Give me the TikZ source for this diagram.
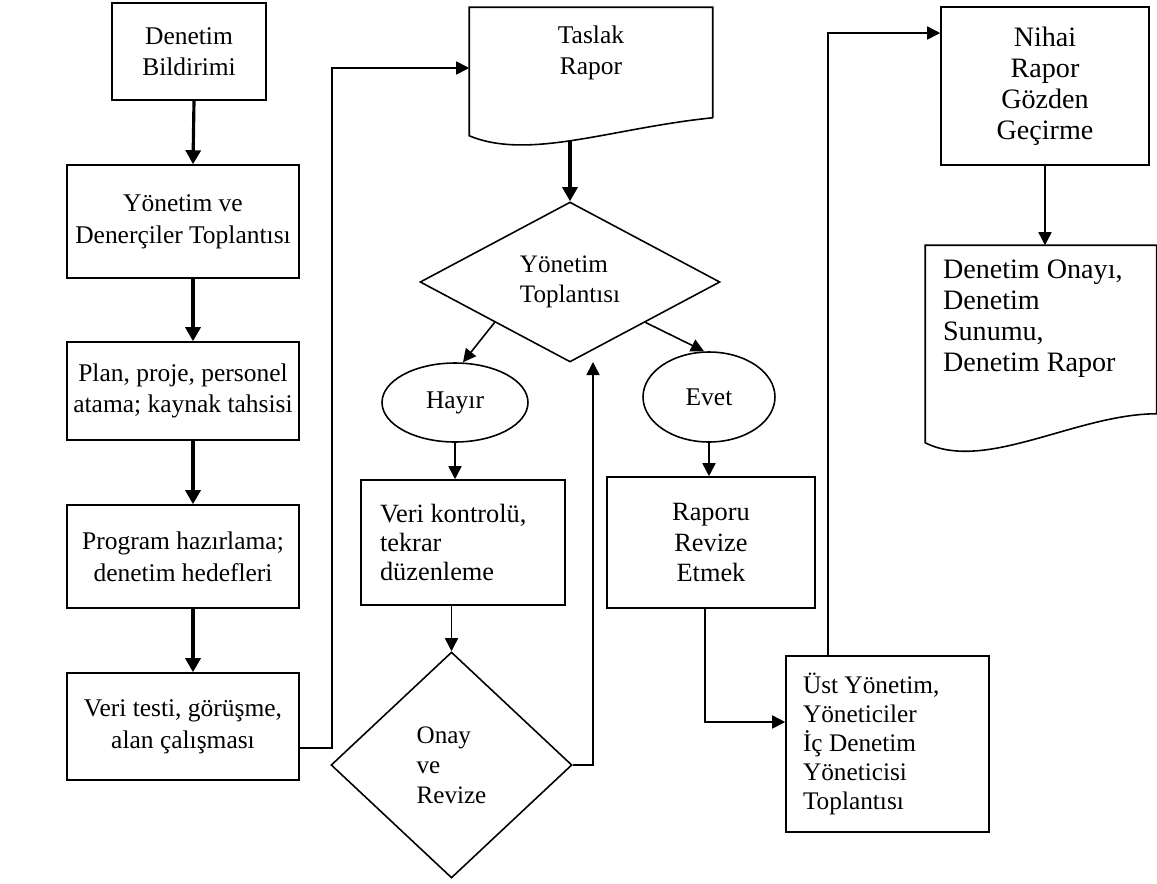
\documentclass[tikz,border=0pt]{standalone}
\usepackage{fontspec}
\setmainfont{Liberation Serif}
\usetikzlibrary{shapes.geometric, arrows.meta, calc, positioning}
\tikzset{
    box/.style ={draw, line width=0.9pt, inner sep=0pt, align=center, font=\fontsize{14.5}{18}\selectfont},
    lbox/.style={draw, line width=0.9pt, inner ysep=0pt, align=flush left},
    dec/.style ={diamond, draw, line width=0.9pt, inner sep=0pt, align=left, font=\fontsize{14.3}{17}\selectfont},
    oval/.style={ellipse, draw, line width=0.9pt, inner sep=0pt, font=\fontsize{14.5}{18}\selectfont},
    fat/.style ={line width=1.8pt, -{Triangle[length=0.28cm,width=0.3cm]}},
    flow/.style={line width=0.9pt, -{Triangle[length=0.26cm,width=0.26cm]}},
    link/.style={line width=0.9pt}
}

\begin{document}
\begin{tikzpicture}[x=0.02cm, y=-0.02cm]
  \useasboundingbox (0,0) rectangle (1157,883);

  % left column
  \node[box, minimum width=3.08cm, minimum height=1.94cm] (bild) at (189,51.5) {Denetim\\Bildirimi};
  \node[box, minimum width=4.64cm, minimum height=2.26cm] (meet) at (183,221.5) {Yönetim ve\\Denerçiler Toplantısı};
  \node[box, minimum width=4.64cm, minimum height=1.96cm] (plan) at (183,391) {Plan, proje, personel\\atama; kaynak tahsisi};
  \node[box, minimum width=4.64cm, minimum height=2.06cm] (prog) at (183,556.5) {Program hazırlama;\\denetim hedefleri};
  \node[box, minimum width=4.64cm, minimum height=2.14cm] (test) at (183,726.5) {Veri testi, görüşme,\\alan çalışması};

  \draw[fat] ([xshift=0.1cm]bild.south) -- ([xshift=0.2cm]meet.north);
  \draw[fat] ([xshift=0.2cm]meet.south) -- ([xshift=0.2cm]plan.north);
  \draw[fat] ([xshift=0.2cm]plan.south) -- ([xshift=0.2cm]prog.north);
  \draw[fat] ([xshift=0.2cm]prog.south) -- ([xshift=0.2cm]test.north);

  % draft report
  \node[box, draw=none, minimum width=4.84cm, minimum height=1.8cm] (draft) at (591,53) {Taslak\\Rapor};
  \draw[link] ([yshift=-0.38cm]draft.south east) -- (draft.north east) -- (draft.north west)
    -- ([yshift=-0.74cm]draft.south west)
    .. controls +(1.2cm,-0.5cm) and +(-2cm,-0.2cm) .. ([yshift=-0.38cm]draft.south east);
  \draw[flow] ([yshift=-0.43cm]test.east) -- ++(0.64cm,0) |- ([yshift=-0.3cm]draft.west);

  % management meeting
  \node[dec, minimum width=6cm, minimum height=3.2cm] (mgmt) at (570,282) {Yönetim\\Toplantısı};
  \draw[fat] ([yshift=-0.84cm]draft.south -| mgmt.north) -- (mgmt.north);

  \node[oval, minimum width=2.92cm, minimum height=1.58cm] (no) at (455,402.5) {Hayır};
  \node[oval, minimum width=2.64cm, minimum height=1.8cm] (yes) at (709,397) {Evet};
  \draw[flow] (mgmt.south west) -- ([xshift=0.16cm]no.north);
  \draw[flow] (mgmt.south east) -- ([xshift=-0.1cm]yes.north);

  % no branch
  \node[lbox, text width=3.32cm, inner xsep=0.38cm, minimum height=2.5cm,
        font=\fontsize{15}{16.5}\selectfont] (check) at (463,542.5) {Veri kontrolü,\\tekrar\\düzenleme};
  \draw[flow] (no.south) -- (no.south |- check.north);
  \node[dec, minimum width=4.82cm, minimum height=4.52cm] (approve) at (451.5,765) {Onay\\ve\\Revize};
  \draw[flow] (check.south -| approve.north) -- (approve.north);
  \coordinate (back) at (593,362);
  \draw[flow] (approve.east) -| (back);

  % yes branch
  \node[box, minimum width=4.16cm, minimum height=2.62cm,
        font=\fontsize{15}{17.6}\selectfont] (revise) at (711,542.5) {Raporu\\Revize\\Etmek};
  \draw[flow] (yes.south) -- (yes.south |- revise.north);
  \node[lbox, text width=3.38cm, inner xsep=0.34cm, minimum height=3.52cm,
        font=\fontsize{14.4}{16.5}\selectfont] (top) at (887.5,744) {Üst Yönetim,\\Yöneticiler\\İç Denetim\\Yöneticisi\\Toplantısı};
  \draw[flow] ([xshift=-0.12cm]revise.south) |- ([yshift=0.44cm]top.west);

  % final report
  \node[box, minimum width=4.16cm, minimum height=3.16cm,
        font=\fontsize{16}{17.6}\selectfont] (final) at (1045,86) {Nihai\\Rapor\\Gözden\\Geçirme};
  \draw[flow] ([xshift=-1.19cm]top.north) |- ([yshift=1.06cm]final.west);

  \node[lbox, draw=none, text width=3.92cm, inner xsep=0.34cm, minimum height=2.92cm,
        font=\fontsize{16}{17.6}\selectfont] (doc) at (1041,319) {Denetim Onayı,\\Denetim\\Sunumu,\\Denetim Rapor};
  \draw[link] ([yshift=-0.42cm]doc.south east) -- (doc.north east) -- (doc.north west)
    -- ([yshift=-1.0cm]doc.south west)
    .. controls +(1.2cm,-0.6cm) and +(-1.6cm,0) .. ([yshift=-0.42cm]doc.south east);
  \draw[flow] (final.south) -- (final.south |- doc.north);
\end{tikzpicture}
\end{document}
